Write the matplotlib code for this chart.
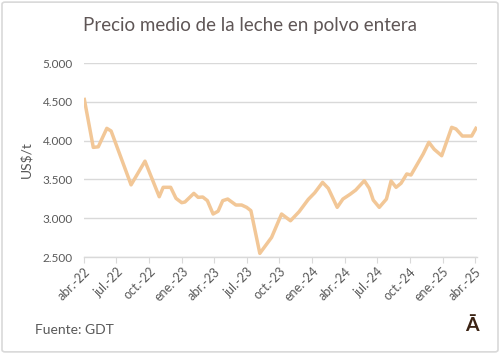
import matplotlib
matplotlib.use("Agg")
import matplotlib.pyplot as plt
import matplotlib.dates as mdates
import numpy as np
import pandas as pd
from matplotlib.patches import FancyBboxPatch

dates = ["2022-04-02", "2022-04-27", "2022-05-11", "2022-06-04", "2022-06-16",
         "2022-08-11", "2022-09-19", "2022-10-29", "2022-11-09", "2022-11-30",
         "2022-12-15", "2022-12-31", "2023-01-09", "2023-02-03", "2023-02-15",
         "2023-02-28", "2023-03-13", "2023-03-29", "2023-04-12", "2023-04-25",
         "2023-05-09", "2023-06-01", "2023-06-17", "2023-07-01", "2023-07-13",
         "2023-08-07", "2023-09-09", "2023-10-07", "2023-11-01", "2023-11-25",
         "2023-12-21", "2024-01-08", "2024-01-30", "2024-02-15", "2024-03-11",
         "2024-03-27", "2024-04-16", "2024-05-02", "2024-05-26", "2024-06-09",
         "2024-06-20", "2024-07-07", "2024-07-27", "2024-08-09", "2024-08-23",
         "2024-09-06", "2024-09-22", "2024-10-04", "2024-11-07", "2024-11-23",
         "2024-12-08", "2024-12-29", "2025-01-26", "2025-02-07", "2025-02-25",
         "2025-03-23", "2025-04-04"]
prices = [4530, 3913, 3920, 4158, 4124,
          3430, 3735, 3277, 3398, 3398,
          3256, 3200, 3209, 3320, 3269,
          3273, 3226, 3054, 3090, 3226,
          3247, 3170, 3170, 3140, 3097,
          2547, 2753, 3054, 2967, 3083,
          3243, 3328, 3462, 3385, 3140,
          3247, 3308, 3363, 3483, 3385,
          3234, 3140, 3247, 3479, 3398,
          3450, 3570, 3557, 3827, 3978,
          3888, 3805, 4171, 4150, 4059,
          4059, 4158]

title = "Precio medio de la leche en polvo entera"
ylabel = "US$/t"
source = "Fuente: GDT"
tick_dates = ["2022-04-01", "2022-07-01", "2022-10-01", "2023-01-01", "2023-04-01",
              "2023-07-01", "2023-10-01", "2024-01-01", "2024-04-01", "2024-07-01",
              "2024-10-01", "2025-01-01", "2025-04-01"]
tick_labels = ["abr.-22", "jul.-22", "oct.-22", "ene.-23", "abr.-23", "jul.-23",
               "oct.-23", "ene.-24", "abr.-24", "jul.-24", "oct.-24", "ene.-25", "abr.-25"]
yticks = [2500, 3000, 3500, 4000, 4500, 5000]
ytick_labels = ["2.500", "3.000", "3.500", "4.000", "4.500", "5.000"]

plt.rcParams['font.family'] = ['Lato', 'DejaVu Sans']
txt = '#595959'

fig = plt.figure(figsize=(5.0, 3.54), dpi=100)
fig.patch.set_facecolor('white')
border = FancyBboxPatch((0.004, 0.006), 0.992, 0.988, boxstyle="round,pad=0,rounding_size=0.006",
                        transform=fig.transFigure, facecolor='white', edgecolor='#d9d9d9',
                        linewidth=1.2, zorder=-10)
fig.patches.append(border)

ax = fig.add_axes([0.168, 0.274, 0.786, 0.548])
x = pd.to_datetime(dates)
ax.plot(x, prices, color='#F2C797', linewidth=2.5, solid_joinstyle='round', zorder=3)

ax.set_xlim(pd.Timestamp("2022-04-01"), pd.Timestamp("2025-04-07"))
ax.set_ylim(2500, 5000)
ax.set_yticks(yticks)
ax.set_yticklabels(ytick_labels)
ax.set_xticks(pd.to_datetime(tick_dates))
ax.set_xticklabels(tick_labels, rotation=45, ha='right', rotation_mode='anchor')

ax.grid(axis='y', color='#d9d9d9', linewidth=1.0)
ax.set_axisbelow(True)
for s in ['top', 'right', 'left']:
    ax.spines[s].set_visible(False)
ax.spines['bottom'].set_color('#d9d9d9')
ax.spines['bottom'].set_linewidth(1.0)
ax.tick_params(axis='y', length=0, labelsize=8.5, labelcolor=txt, pad=8)
ax.tick_params(axis='x', length=4, color='#d9d9d9', labelsize=9, labelcolor=txt, pad=2)
ax.set_ylabel(ylabel, fontsize=10, color=txt)
ax.yaxis.set_label_coords(-0.132, 0.5)

fig.text(0.5, 0.928, title, ha='center', va='center', fontsize=13.5, color='#5f5656')
fig.text(0.07, 0.068, source, ha='left', va='center', fontsize=10, color=txt)
fig.text(0.944, 0.08, "Ā", ha='center', va='center', fontsize=14, fontweight='bold', color='#3b2314')

fig.savefig("out.png", dpi=100, facecolor='white')
